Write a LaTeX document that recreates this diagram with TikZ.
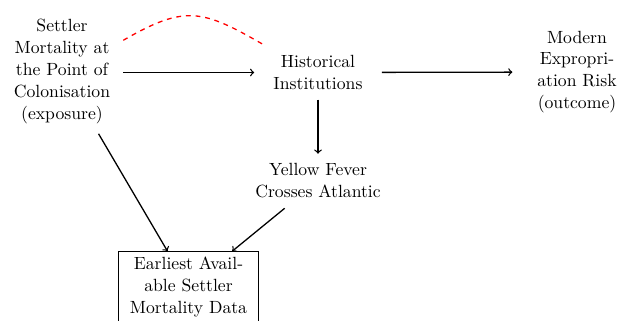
\documentclass[tikz,border=0pt]{standalone}
\begin{document}
\begin{tikzpicture}[x=0.62pt,y=-0.62pt,
  every node/.style={font=\fontsize{10.95}{13.6}\selectfont},
  lbl/.style={align=center,text width=#1,inner ysep=6pt},
  boxed/.style={align=center,text width=#1,draw},
  conn/.style={->,thick},
  confound/.style={red,dashed,thick}]
\useasboundingbox (0,0) rectangle (618,320);
\node[lbl=69pt] (exp) at (62,71.5) {Settler\\Mortality at\\the Point of\\Colonisation\\(exposure)};
\node[lbl=72pt] (inst) at (318,72.5) {Historical\\Institutions};
\node[lbl=73pt] (mod) at (577,72) {Modern\\Expropri-\\ation Risk\\(outcome)};
\node[lbl=80pt] (yf) at (318,181) {Yellow Fever\\Crosses Atlantic};
\node[boxed=80pt] (earl) at (188.5,287) {Earliest Avail-\\able Settler\\Mortality Data};
\draw[conn] (exp.east |- inst) -- (inst);
\draw[conn] (inst) -- (mod);
\draw[conn] (inst) -- (yf);
\draw[conn] (exp) -- (earl);
\draw[conn] (yf) -- (earl);
\draw[confound] (exp.27) to[out=30,in=150,looseness=1.3] (inst.153);
\end{tikzpicture}
\end{document}
